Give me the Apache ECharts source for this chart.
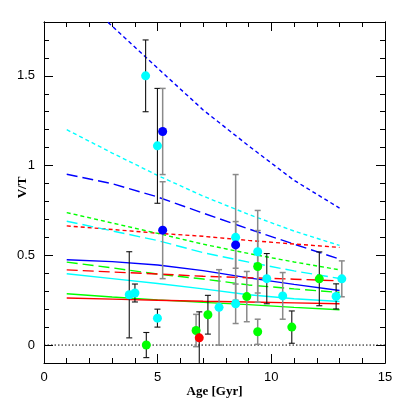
<!DOCTYPE html>
<html><head><meta charset="utf-8">
<script src="https://cdn.jsdelivr.net/npm/echarts@6/dist/echarts.min.js"></script>
<style>html,body{margin:0;padding:0;background:#fff}#c{width:407px;height:407px}</style>
</head><body><div id="c"></div>
<script>
// ---- data ----
const xTicks = [0, 5, 10, 15];
const yMajorTicks = [0, 0.5, 1, 1.5];
const yMinorTicks = [-0.1, 0.1, 0.2, 0.3, 0.4, 0.6, 0.7, 0.8, 0.9, 1.1, 1.2, 1.3, 1.4, 1.6, 1.7];
const lineAges = [1, 3, 5, 7, 9, 11, 13];
const blueDotted  = [2.01, 1.777, 1.543, 1.31, 1.11, 0.918, 0.763];
const cyanShort   = [1.2, 1.07, 0.945, 0.83, 0.728, 0.635, 0.555];
const blueLong    = [0.952, 0.899, 0.825, 0.735, 0.647, 0.562, 0.479];
const redShort    = [0.664, 0.644, 0.623, 0.606, 0.583, 0.563, 0.544];
const greenShort  = [0.738, 0.68, 0.622, 0.562, 0.51, 0.463, 0.419];
const cyanLong    = [0.69, 0.636, 0.582, 0.515, 0.462, 0.413, 0.371];
const blueSolid   = [0.475, 0.465, 0.446, 0.415, 0.374, 0.338, 0.304];
const greenLong   = [0.462, 0.43, 0.395, 0.368, 0.335, 0.313, 0.293];
const redLong     = [0.419, 0.407, 0.396, 0.383, 0.375, 0.367, 0.358];
const cyanSolid   = [0.397, 0.37, 0.343, 0.313, 0.28, 0.258, 0.243];
const greenSolid  = [0.286, 0.268, 0.252, 0.238, 0.225, 0.21, 0.197];
const redSolid    = [0.262, 0.256, 0.25, 0.244, 0.24, 0.235, 0.23];

const cyanAges = [4.47, 4.99, 3.75, 4.0, 4.99, 7.7, 8.43, 8.43, 9.4, 9.8, 10.5, 12.85, 13.1];
const cyanVals = [1.5, 1.11, 0.28, 0.29, 0.15, 0.21, 0.6, 0.23, 0.52, 0.37, 0.274, 0.271, 0.369];
const cyanErrs = [0.2, 0.32, 0.24, 0.05, 0.05, 0.21, 0.35, 0.11, 0.23, 0.14, 0.13, 0.07, 0.1];
const blueAges = [5.22, 5.22, 8.43];
const blueVals = [1.19, 0.64, 0.558];
const blueErrs = [0.24, 0.27, 0.13];
const greenAges = [4.5, 6.69, 7.21, 8.92, 9.4, 9.4, 10.9, 12.11];
const greenVals = [0.0, 0.081, 0.169, 0.27, 0.438, 0.074, 0.1, 0.369];
const greenErrs = [0.07, 0.09, 0.108, 0.14, 0.2, 0.07, 0.09, 0.15];
const redAges = [6.83];
const redVals = [0.04];
const redErrs = [0.145];
// bar tone (style): true = grey bar, false = black bar
const cyanGrey  = [false, false, false, false, false, true, true, true, true, false, true, false, true];
const blueGrey  = [true, true, true];
const greenGrey = [false, true, false, true, true, true, false, false];
const redGrey   = [false];

// ---- build ----
const C = {blue:'#0000ff', cyan:'#00ffff', green:'#00ff00', red:'#ff0000'};
const zip = (xs, ys) => xs.map((x, i) => [x, ys[i]]);
function line(vals, color, dash) {
  return {type:'line', data: zip(lineAges, vals), showSymbol:false, symbol:'none', clip:true,
    lineStyle:{color, width:1.4, type: dash}, silent:true, z:2};
}
const shortDash = [4, 3], longDash = [11, 5];
const errRows = [];
function addErr(ages, vals, errs, grey) {
  ages.forEach((a, i) => errRows.push([a, vals[i] - errs[i], vals[i] + errs[i], grey[i] ? 1 : 0]));
}
addErr(cyanAges, cyanVals, cyanErrs, cyanGrey);
addErr(blueAges, blueVals, blueErrs, blueGrey);
addErr(greenAges, greenVals, greenErrs, greenGrey);
addErr(redAges, redVals, redErrs, redGrey);

function pts(ages, vals, color) {
  return {type:'scatter', data: zip(ages, vals), symbol:'circle', symbolSize:9,
    itemStyle:{color, opacity:1}, z:5, silent:true};
}

const tickStyle = {show:true, inside:true, length:9, lineStyle:{color:'#000', width:1}};
const axisLine = {show:true, onZero:false, lineStyle:{color:'#000', width:1}};
const labelFont = {fontFamily:'Liberation Sans', fontSize:13, color:'#000'};

const option = {
  animation:false,
  grid:{left:44, right:22, top:22, bottom:44, containLabel:false, outerBoundsMode:'none'},
  xAxis:[
    {type:'value', min:0, max:15, interval:5, position:'bottom', offset:0,
     name:'Age [Gyr]', nameLocation:'middle', nameGap:22, nameMoveOverlap:false,
     nameTextStyle:{fontFamily:'Liberation Serif', fontWeight:'bold', fontSize:13, color:'#000'},
     axisLine, axisTick:tickStyle,
     minorTick:{show:true, splitNumber:5, length:5, lineStyle:{color:'#000', width:1}},
     axisLabel:Object.assign({margin:8, customValues:xTicks}, labelFont),
     splitLine:{show:false}, minorSplitLine:{show:false}},
    {type:'value', min:0, max:15, interval:5, position:'top', offset:0,
     axisLine, axisTick:tickStyle,
     minorTick:{show:true, splitNumber:5, length:5, lineStyle:{color:'#000', width:1}},
     axisLabel:{show:false}, splitLine:{show:false}}
  ],
  yAxis:[
    {type:'value', min:-0.1, max:1.8, position:'left', offset:0,
     name:'V/T', nameLocation:'middle', nameGap:15, nameRotate:90, nameMoveOverlap:false,
     nameTextStyle:{fontFamily:'Liberation Serif', fontWeight:'bold', fontSize:13, color:'#000', padding:[0,0,0,10]},
     axisLine, axisTick:Object.assign({customValues:yMajorTicks}, tickStyle),
     axisLabel:Object.assign({margin:9, customValues:yMajorTicks, formatter:v => String(v)}, labelFont),
     splitLine:{show:false}},
    {type:'value', min:-0.1, max:1.8, position:'left', offset:0,
     axisLine, axisTick:{show:true, inside:true, length:5, customValues:yMinorTicks, lineStyle:{color:'#000', width:1}},
     axisLabel:{show:false}, splitLine:{show:false}},
    {type:'value', min:-0.1, max:1.8, position:'right', offset:0,
     axisLine, axisTick:Object.assign({customValues:yMajorTicks}, tickStyle),
     axisLabel:{show:false}, splitLine:{show:false}},
    {type:'value', min:-0.1, max:1.8, position:'right', offset:0,
     axisLine, axisTick:{show:true, inside:true, length:5, customValues:yMinorTicks, lineStyle:{color:'#000', width:1}},
     axisLabel:{show:false}, splitLine:{show:false}}
  ],
  series:[
    {type:'line', data:[[0,0],[15,0]], showSymbol:false, symbol:'none',
     lineStyle:{color:'#000', width:1, type:[1.5,2]}, silent:true, z:1},
    line(blueDotted, C.blue, shortDash),
    line(cyanShort, C.cyan, shortDash),
    line(blueLong, C.blue, longDash),
    line(redShort, C.red, shortDash),
    line(greenShort, C.green, shortDash),
    line(cyanLong, C.cyan, longDash),
    line(blueSolid, C.blue, 'solid'),
    line(greenLong, C.green, longDash),
    line(redLong, C.red, longDash),
    line(cyanSolid, C.cyan, 'solid'),
    line(greenSolid, C.green, 'solid'),
    line(redSolid, C.red, 'solid'),
    {type:'custom', data: errRows, z:3, silent:true, clip:true,
     encode:{x:0, y:[1,2]},
     renderItem:function(params, api){
       const x = api.value(0);
       const lo = api.coord([x, api.value(1)]);
       const hi = api.coord([x, api.value(2)]);
       const grey = api.value(3) === 1;
       const col = grey ? '#8a8a8a' : '#111';
       const w = grey ? 1.5 : 1.1;
       const cap = 3;
       const st = {stroke:col, lineWidth:w};
       return {type:'group', children:[
         {type:'line', shape:{x1:lo[0], y1:lo[1], x2:hi[0], y2:hi[1]}, style:st},
         {type:'line', shape:{x1:lo[0]-cap, y1:lo[1], x2:lo[0]+cap, y2:lo[1]}, style:st},
         {type:'line', shape:{x1:hi[0]-cap, y1:hi[1], x2:hi[0]+cap, y2:hi[1]}, style:st}
       ]};
     }},
    pts(cyanAges, cyanVals, C.cyan),
    pts(blueAges, blueVals, C.blue),
    pts(greenAges, greenVals, C.green),
    pts(redAges, redVals, C.red)
  ]
};
const chart = echarts.init(document.getElementById('c'), null, {renderer:'canvas'});
chart.setOption(option);
</script></body></html>
